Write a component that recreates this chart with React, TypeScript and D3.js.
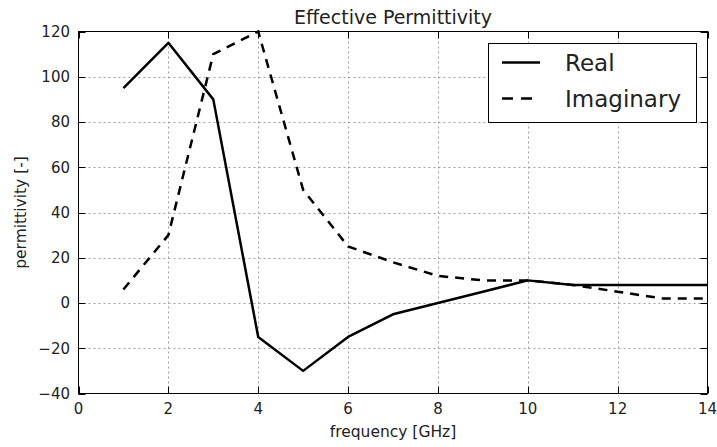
import { useEffect, useRef } from "react";
import * as d3 from "d3";

// frequency [GHz]
const freq = [1, 2, 3, 4, 5, 6, 7, 8, 9, 10, 11, 12, 13, 14];
const realPart = [95, 115, 90, -15, -30, -15, -5, 0, 5, 10, 8, 8, 8, 8];
const imagPart = [6, 30, 110, 120, 50, 25, 18, 12, 10, 10, 8, 5, 2, 2];
const xTicks = [0, 2, 4, 6, 8, 10, 12, 14];
const yTicks = [-40, -20, 0, 20, 40, 60, 80, 100, 120];

export default function App() {
  const ref = useRef<SVGSVGElement>(null);

  useEffect(() => {
    const width = 717;
    const height = 447;
    const left = 78.5;
    const right = 707.5;
    const top = 31.5;
    const bottom = 393.5;
    const font = "'DejaVu Sans', sans-serif";

    const svg = d3.select(ref.current);
    svg.selectAll("*").remove();
    svg.attr("width", width).attr("height", height).style("display", "block");

    const x = d3.scaleLinear([0, 14], [left, right]);
    const y = d3.scaleLinear([-40, 120], [bottom, top]);

    svg.append("rect").attr("width", width).attr("height", height).attr("fill", "white");

    // grid
    const grid = svg.append("g")
      .attr("stroke", "#a0a0a0")
      .attr("stroke-width", 1)
      .attr("stroke-dasharray", "2,3");
    grid.selectAll(".gx")
      .data(xTicks.slice(1, -1))
      .join("line")
      .attr("x1", d => Math.round(x(d)) + 0.5)
      .attr("x2", d => Math.round(x(d)) + 0.5)
      .attr("y1", top)
      .attr("y2", bottom);
    grid.selectAll(".gy")
      .data(yTicks.slice(1, -1))
      .join("line")
      .attr("x1", left)
      .attr("x2", right)
      .attr("y1", d => Math.round(y(d)) + 0.5)
      .attr("y2", d => Math.round(y(d)) + 0.5);

    // inward ticks on all four sides
    const tk = 7;
    const ticks = svg.append("g").attr("stroke", "black").attr("stroke-width", 1);
    xTicks.forEach(t => {
      const px = Math.round(x(t)) + 0.5;
      ticks.append("line").attr("x1", px).attr("x2", px).attr("y1", bottom).attr("y2", bottom - tk);
      ticks.append("line").attr("x1", px).attr("x2", px).attr("y1", top).attr("y2", top + tk);
    });
    yTicks.forEach(t => {
      const py = Math.round(y(t)) + 0.5;
      ticks.append("line").attr("x1", left).attr("x2", left + tk).attr("y1", py).attr("y2", py);
      ticks.append("line").attr("x1", right).attr("x2", right - tk).attr("y1", py).attr("y2", py);
    });

    const line = d3.line<number>()
      .x((_, i) => x(freq[i]))
      .y(d => y(d));

    svg.append("path")
      .attr("fill", "none")
      .attr("stroke", "black")
      .attr("stroke-width", 2.5)
      .attr("stroke-linejoin", "round")
      .attr("d", line(realPart));

    svg.append("path")
      .attr("fill", "none")
      .attr("stroke", "black")
      .attr("stroke-width", 2.5)
      .attr("stroke-dasharray", "9,7")
      .attr("d", line(imagPart));

    // frame
    svg.append("rect")
      .attr("x", left)
      .attr("y", top)
      .attr("width", right - left)
      .attr("height", bottom - top)
      .attr("fill", "none")
      .attr("stroke", "black")
      .attr("stroke-width", 1);

    // tick labels
    svg.append("g")
      .attr("font-family", font)
      .attr("font-size", 15)
      .attr("fill", "#222")
      .attr("text-anchor", "middle")
      .selectAll("text")
      .data(xTicks)
      .join("text")
      .attr("x", d => x(d))
      .attr("y", 414)
      .text(d => d);

    svg.append("g")
      .attr("font-family", font)
      .attr("font-size", 15)
      .attr("fill", "#222")
      .attr("text-anchor", "end")
      .selectAll("text")
      .data(yTicks)
      .join("text")
      .attr("x", 70)
      .attr("y", d => y(d))
      .attr("dy", "0.36em")
      .text(d => (d < 0 ? "\u2212" + Math.abs(d) : String(d)));

    // axis labels and title
    svg.append("text")
      .attr("x", (left + right) / 2)
      .attr("y", 437)
      .attr("text-anchor", "middle")
      .attr("font-family", font)
      .attr("font-size", 15.5)
      .attr("fill", "#222")
      .text("frequency [GHz]");

    svg.append("text")
      .attr("transform", `translate(26,${(top + bottom) / 2}) rotate(-90)`)
      .attr("text-anchor", "middle")
      .attr("font-family", font)
      .attr("font-size", 15.5)
      .attr("fill", "#222")
      .text("permittivity [-]");

    svg.append("text")
      .attr("x", (left + right) / 2)
      .attr("y", 24)
      .attr("text-anchor", "middle")
      .attr("font-family", font)
      .attr("font-size", 19)
      .attr("fill", "#222")
      .text("Effective Permittivity");

    // legend
    const legend = svg.append("g");
    legend.append("rect")
      .attr("x", 488.5)
      .attr("y", 43.5)
      .attr("width", 208)
      .attr("height", 79)
      .attr("fill", "white")
      .attr("stroke", "black")
      .attr("stroke-width", 1);
    const entries = [
      { label: "Real", dash: null },
      { label: "Imaginary", dash: "11,8" },
    ];
    entries.forEach((e, i) => {
      const ly = 62.5 + i * 36;
      legend.append("line")
        .attr("x1", 502)
        .attr("x2", 540)
        .attr("y1", ly)
        .attr("y2", ly)
        .attr("stroke", "black")
        .attr("stroke-width", 2.5)
        .attr("stroke-dasharray", e.dash);
      legend.append("text")
        .attr("x", 565)
        .attr("y", ly)
        .attr("dy", "0.36em")
        .attr("font-family", font)
        .attr("font-size", 23)
        .attr("fill", "#222")
        .text(e.label);
    });
  }, []);

  return <svg ref={ref} style={{ position: "absolute", left: 0, top: 0 }}></svg>;
}
